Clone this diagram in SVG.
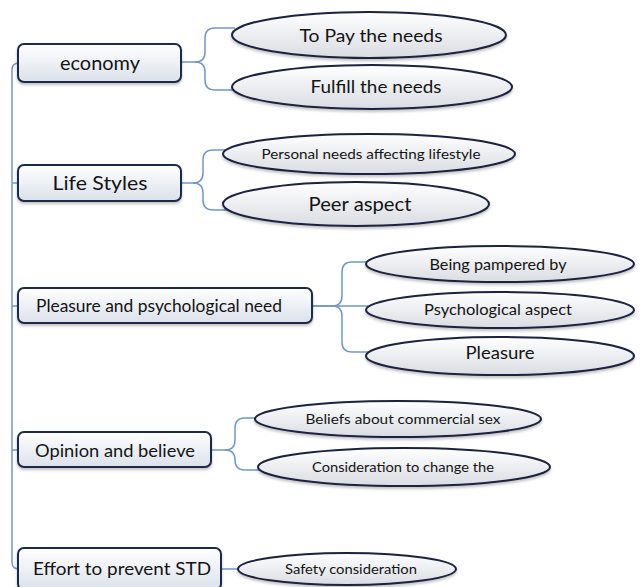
<svg xmlns="http://www.w3.org/2000/svg" width="640" height="587" viewBox="0 0 640 587">
<defs>
<linearGradient id="gBox" x1="0" y1="0" x2="0" y2="1">
<stop offset="0" stop-color="#ffffff"/>
<stop offset="1" stop-color="#dbe1ea"/>
</linearGradient>
<linearGradient id="gEll" x1="0" y1="0" x2="0" y2="1">
<stop offset="0" stop-color="#ffffff"/>
<stop offset="1" stop-color="#d9dce2"/>
</linearGradient>
<filter id="sh" x="-10%" y="-20%" width="120%" height="150%">
<feGaussianBlur in="SourceAlpha" stdDeviation="1.5"/>
<feOffset dx="0" dy="2" result="b"/>
<feComponentTransfer><feFuncA type="linear" slope="0.25"/></feComponentTransfer>
<feMerge><feMergeNode/><feMergeNode in="SourceGraphic"/></feMerge>
</filter>
</defs>
<style>
.box{fill:url(#gBox);stroke:#1d2a48;stroke-width:2;filter:url(#sh)}
.ell{fill:url(#gEll);stroke:#1a2340;stroke-width:2;filter:url(#sh)}
.con{fill:none;stroke:#7196cc;stroke-width:1.5}
text{font-family:Lato,"Open Sans","Liberation Sans",sans-serif;fill:#141414;text-anchor:middle}
</style>
<rect width="640" height="587" fill="#ffffff"/>
<g id="connectors">
<path class="con" d="M19,63 Q12,63 12,70 V562 Q12,569 19,569"/>
<path class="con" d="M12,183 H19 M12,306 H19 M12,450 H19"/>
<path class="con" d="M181,62 H195 Q205,62 205,52 V38 Q205,28 215,28 H235"/>
<path class="con" d="M195,62 Q205,62 205,72 V80 Q205,90 215,90 H237"/>
<path class="con" d="M180,183 H193 Q203,183 203,173 V160 Q203,150 213,150 H226"/>
<path class="con" d="M193,183 Q203,183 203,193 V200 Q203,210 213,210 H227"/>
<path class="con" d="M312,306 H332 Q342,306 342,296 V272 Q342,262 352,262 H369"/>
<path class="con" d="M312,306 H368"/>
<path class="con" d="M332,306 Q342,306 342,316 V342 Q342,352 352,352 H368"/>
<path class="con" d="M211,450 H225 Q235,450 235,440 V428 Q235,418 245,418 H257"/>
<path class="con" d="M225,450 Q235,450 235,460 V460 Q235,470 245,470 H260"/>
<path class="con" d="M221,569 H239"/>
</g>
<g id="n-economy">
<rect class="box" x="18" y="44" width="163" height="38" rx="6"/>
<text x="100" y="70" font-size="19" textLength="80" lengthAdjust="spacingAndGlyphs">economy</text>
</g>
<g id="n-pay">
<ellipse class="ell" cx="369" cy="35" rx="137" ry="23"/>
<text x="371" y="42" font-size="18" textLength="143" lengthAdjust="spacingAndGlyphs">To Pay the needs</text>
</g>
<g id="n-fulfill">
<ellipse class="ell" cx="372" cy="87" rx="140" ry="22"/>
<text x="376" y="93" font-size="18" textLength="131" lengthAdjust="spacingAndGlyphs">Fulfill the needs</text>
</g>
<g id="n-lifestyles">
<rect class="box" x="18" y="165" width="163" height="36" rx="6"/>
<text x="100" y="190" font-size="19" textLength="95" lengthAdjust="spacingAndGlyphs">Life Styles</text>
</g>
<g id="n-personal">
<ellipse class="ell" cx="369" cy="154" rx="146" ry="20"/>
<text x="371" y="159" font-size="14" textLength="219" lengthAdjust="spacingAndGlyphs">Personal needs affecting lifestyle</text>
</g>
<g id="n-peer">
<ellipse class="ell" cx="356" cy="204" rx="133" ry="22"/>
<text x="360" y="211" font-size="20" textLength="103" lengthAdjust="spacingAndGlyphs">Peer aspect</text>
</g>
<g id="n-pleasure-need">
<rect class="box" x="18" y="288" width="294" height="35" rx="6"/>
<text x="159" y="312" font-size="17" textLength="246" lengthAdjust="spacingAndGlyphs">Pleasure and psychological need</text>
</g>
<g id="n-pampered">
<ellipse class="ell" cx="500" cy="264" rx="134" ry="18"/>
<text x="498" y="270" font-size="15" textLength="137" lengthAdjust="spacingAndGlyphs">Being pampered by</text>
</g>
<g id="n-psych">
<ellipse class="ell" cx="500" cy="310" rx="134" ry="18"/>
<text x="498" y="315" font-size="15" textLength="148" lengthAdjust="spacingAndGlyphs">Psychological aspect</text>
</g>
<g id="n-pleasure">
<ellipse class="ell" cx="500" cy="356" rx="134" ry="19"/>
<text x="500" y="359" font-size="17" textLength="69" lengthAdjust="spacingAndGlyphs">Pleasure</text>
</g>
<g id="n-opinion">
<rect class="box" x="18" y="432" width="193" height="35" rx="6"/>
<text x="115" y="457" font-size="17" textLength="160" lengthAdjust="spacingAndGlyphs">Opinion and believe</text>
</g>
<g id="n-beliefs">
<ellipse class="ell" cx="398" cy="419" rx="143" ry="18"/>
<text x="403" y="424" font-size="14" textLength="195" lengthAdjust="spacingAndGlyphs">Beliefs about commercial sex</text>
</g>
<g id="n-consideration">
<ellipse class="ell" cx="404" cy="467" rx="146" ry="19"/>
<text x="403" y="472" font-size="14" textLength="182" lengthAdjust="spacingAndGlyphs">Consideration to change the</text>
</g>
<g id="n-effort">
<rect class="box" x="18" y="548" width="203" height="42" rx="6"/>
<text x="122" y="575" font-size="17" textLength="178" lengthAdjust="spacingAndGlyphs">Effort to prevent STD</text>
</g>
<g id="n-safety">
<ellipse class="ell" cx="347" cy="569" rx="109" ry="16"/>
<text x="351" y="574" font-size="14" textLength="132" lengthAdjust="spacingAndGlyphs">Safety consideration</text>
</g>
</svg>
